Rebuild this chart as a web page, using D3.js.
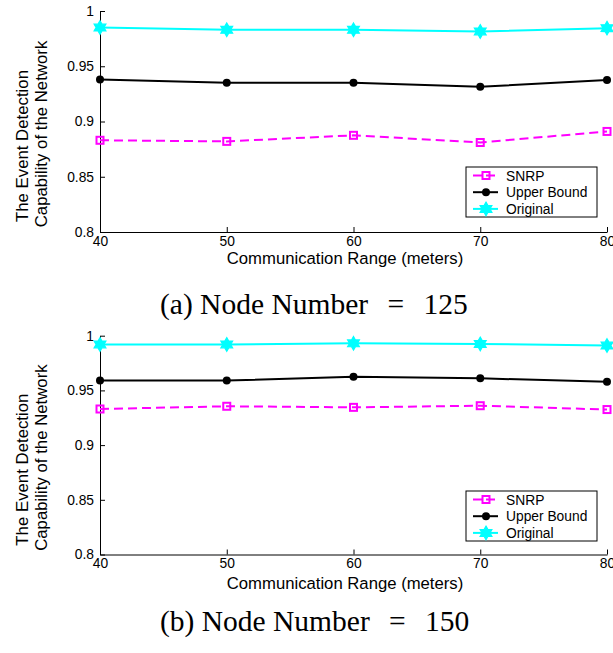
<!DOCTYPE html>
<html>
<head>
<meta charset="utf-8">
<script src="https://cdn.jsdelivr.net/npm/d3@7"></script>
<style>
  body { margin: 0; background: #fff; }
  svg { display: block; }
</style>
</head>
<body>
<div id="chartHolder"></div>
<script>
const width = 613;
const height = 653;

// data
const ranges = [40, 50, 60, 70, 80];
const yTicks = [0.8, 0.85, 0.9, 0.95, 1];
const yTickLabels = ["0.8", "0.85", "0.9", "0.95", "1"];
const seriesNames = ["SNRP", "Upper Bound", "Original"];

// (a) Node Number = 125
const snrpA = [0.883, 0.882, 0.8875, 0.881, 0.891];
const upperA = [0.938, 0.935, 0.935, 0.9315, 0.9375];
const originalA = [0.985, 0.983, 0.983, 0.9815, 0.9845];

// (b) Node Number = 150
const snrpB = [0.933, 0.9355, 0.9345, 0.936, 0.9325];
const upperB = [0.959, 0.959, 0.9625, 0.961, 0.958];
const originalB = [0.992, 0.992, 0.993, 0.9925, 0.991];

const captionHeads = ["(a) Node Number", "(b) Node Number"];
const nodeNumbers = ["125", "150"];

const svg = d3.select("#chartHolder")
  .append("svg")
  .attr("width", width)
  .attr("height", height);

const styles = [
  { color: "#ff00ff", dash: "9,5", marker: "square" },
  { color: "#000000", dash: null, marker: "circle" },
  { color: "#00ffff", dash: null, marker: "star" }
];

function starPath(R) {
  const r = R * 0.58;
  const pts = [];
  for (let i = 0; i < 12; i++) {
    const a = -Math.PI / 2 + i * Math.PI / 6;
    const rr = i % 2 === 0 ? R : r;
    pts.push([rr * Math.cos(a), rr * Math.sin(a)]);
  }
  return "M" + pts.map(p => p.join(",")).join("L") + "Z";
}

function drawMarker(g, type, color, x, y) {
  if (type === "square") {
    g.append("rect")
      .attr("x", x - 3.5).attr("y", y - 3.5)
      .attr("width", 7).attr("height", 7)
      .attr("fill", "none")
      .attr("stroke", color)
      .attr("stroke-width", 2);
  } else if (type === "circle") {
    g.append("circle")
      .attr("cx", x).attr("cy", y).attr("r", 4)
      .attr("fill", color);
  } else {
    g.append("path")
      .attr("d", starPath(6.8))
      .attr("transform", `translate(${x},${y})`)
      .attr("fill", color)
      .attr("stroke", color)
      .attr("stroke-width", 1.2);
  }
}

function drawPanel(cfg) {
  const g = svg.append("g");

  const xScale = d3.scaleLinear().domain([40, 80]).range([100, 607]);
  const yScale = d3.scaleLinear().domain([0.8, 1]).range([cfg.bottom, cfg.top]);

  // axis Y
  const yAxis = d3.axisLeft(yScale)
    .tickValues(yTicks)
    .tickFormat((d, i) => yTickLabels[i])
    .tickSizeInner(-5)
    .tickSizeOuter(0)
    .tickPadding(6);
  g.append("g")
    .attr("transform", "translate(100,0)")
    .call(yAxis);

  // axis X
  const xAxis = d3.axisBottom(xScale)
    .tickValues(ranges)
    .tickFormat(d3.format("d"))
    .tickSizeInner(-5)
    .tickSizeOuter(0)
    .tickPadding(4);
  g.append("g")
    .attr("transform", `translate(0,${cfg.bottom})`)
    .call(xAxis);

  g.selectAll(".domain, .tick line").attr("stroke", "#000");
  g.selectAll(".tick text")
    .attr("fill", "#000")
    .style("font-family", "'Liberation Sans', Arial, sans-serif")
    .style("font-size", "13.8px");

  // lines
  const line = d3.line()
    .x((d, i) => xScale(ranges[i]))
    .y(d => yScale(d));

  cfg.series.forEach((vals, s) => {
    const st = styles[s];
    g.append("path")
      .datum(vals)
      .attr("d", line)
      .attr("fill", "none")
      .attr("stroke", st.color)
      .attr("stroke-width", 2)
      .attr("stroke-dasharray", st.dash);
    vals.forEach((v, i) => drawMarker(g, st.marker, st.color, xScale(ranges[i]), yScale(v)));
  });

  // axis labels
  g.append("text")
    .attr("x", 345)
    .attr("y", cfg.bottom + cfg.xLabelOff)
    .attr("text-anchor", "middle")
    .style("font-family", "'Liberation Sans', Arial, sans-serif")
    .style("font-size", "16.7px")
    .text("Communication Range (meters)");

  const yl = [["The Event Detection", 28, 24.5], ["Capability of the Network", 47, 12.5]];
  yl.forEach(([txt, bx, off]) => {
    const cy = (cfg.top + cfg.bottom) / 2 + off;
    g.append("text")
      .attr("transform", `translate(${bx},${cy}) rotate(-90)`)
      .attr("text-anchor", "middle")
      .style("font-family", "'Liberation Sans', Arial, sans-serif")
      .style("font-size", "16.8px")
      .text(txt);
  });

  // legend
  const lg = g.append("g").attr("transform", `translate(466,${cfg.legendTop})`);
  lg.append("rect")
    .attr("width", 131).attr("height", 50)
    .attr("fill", "#fff")
    .attr("stroke", "#000")
    .attr("stroke-width", 1);
  seriesNames.forEach((name, s) => {
    const st = styles[s];
    const ly = 8.5 + s * 16.7;
    lg.append("line")
      .attr("x1", 7).attr("x2", 32)
      .attr("y1", ly).attr("y2", ly)
      .attr("stroke", st.color)
      .attr("stroke-width", 2)
      .attr("stroke-dasharray", st.dash ? "9,4" : null);
    drawMarker(lg, st.marker, st.color, 20, ly);
    lg.append("text")
      .attr("x", 40)
      .attr("y", ly + 5)
      .style("font-family", "'Liberation Sans', Arial, sans-serif")
      .style("font-size", "13.8px")
      .text(name);
  });

  // caption
  const cap = svg.append("text")
    .attr("x", 160)
    .attr("y", cfg.captionY)
    .attr("xml:space", "preserve")
    .style("font-family", "'Liberation Serif', 'DejaVu Serif', serif")
    .style("font-size", "29.5px");
  cap.append("tspan").text(cfg.head);
  cap.append("tspan").style("word-spacing", "12px").text(" = ");
  cap.append("tspan").text(cfg.num);
}

drawPanel({
  top: 11, bottom: 232, xLabelOff: 31.5, legendTop: 167, captionY: 313.5,
  series: [snrpA, upperA, originalA], head: captionHeads[0], num: nodeNumbers[0]
});
drawPanel({
  top: 335.7, bottom: 554.5, xLabelOff: 34, legendTop: 491, captionY: 631,
  series: [snrpB, upperB, originalB], head: captionHeads[1], num: nodeNumbers[1]
});
</script>
</body>
</html>
